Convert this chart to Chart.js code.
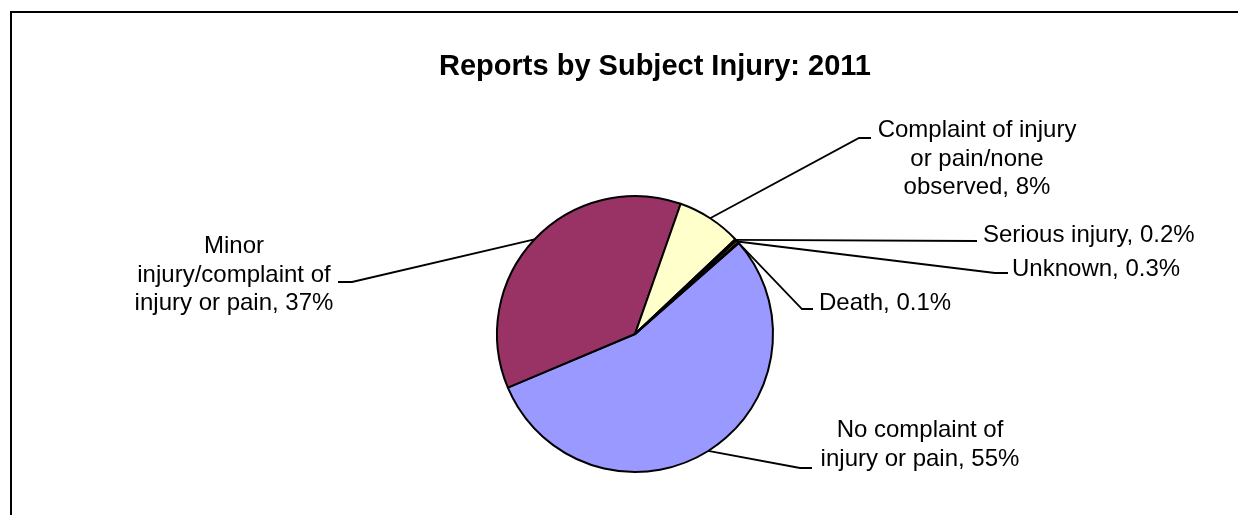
<!DOCTYPE html>
<html>
<head>
<meta charset="utf-8">
<title>Reports by Subject Injury: 2011</title>
<script src="https://cdn.jsdelivr.net/npm/chart.js@4.4.1/dist/chart.umd.min.js"></script>
<style>
  html, body { margin: 0; padding: 0; background: #fff; }
  canvas { display: block; }
</style>
</head>
<body>
<canvas id="injuryChart" width="1238" height="515"></canvas>
<script>
// data (share of reports, %)
const categories = [
    'No complaint of injury or pain',
    'Minor injury/complaint of injury or pain',
    'Complaint of injury or pain/none observed',
    'Serious injury',
    'Unknown',
    'Death'
];
const shares = [55.2, 36.8, 7.6, 0.2, 0.3, 0.1];
const sliceColors = ['#9999FF', '#993366', '#FFFFCC', '#5B7FA6', '#E07B28', '#8C8C8C'];
const chartTitle = 'Reports by Subject Injury: 2011';

// where each data label sits (elbow of the leader line, end of it, text anchor)
const labelLayout = [
    { elbow: [800, 468], end: [812, 468], x: 920, y: 437, align: 'center', wrap: 210 },
    { elbow: [352, 282], end: [338, 282], x: 234, y: 253, align: 'center', wrap: 210 },
    { elbow: [859, 138], end: [871, 138], x: 977, y: 137, align: 'center', wrap: 210 },
    { elbow: [977, 241], end: [977, 241], x: 983, y: 242, align: 'left', wrap: 999 },
    { elbow: [995, 273], end: [1008, 273], x: 1012, y: 276, align: 'left', wrap: 999 },
    { elbow: [802, 309], end: [813, 309], x: 819, y: 310, align: 'left', wrap: 999 }
];

const FONT = '"Liberation Sans", Arial, sans-serif';

function pctText(v, total) {
    const p = v / total * 100;
    return p >= 1 ? Math.round(p) + '%' : p.toFixed(1) + '%';
}

function wrapText(ctx, text, maxWidth) {
    const words = text.split(' ');
    const lines = [];
    let line = '';
    words.forEach(w => {
        const test = line ? line + ' ' + w : w;
        if (line && ctx.measureText(test).width > maxWidth) {
            lines.push(line);
            line = w;
        } else {
            line = test;
        }
    });
    if (line) lines.push(line);
    return lines;
}

// frame, title and the leader-line labels
const decorations = {
    id: 'decorations',
    beforeDraw(chart) {
        const ctx = chart.ctx;
        ctx.save();
        ctx.fillStyle = '#fff';
        ctx.fillRect(0, 0, chart.width, chart.height);
        ctx.strokeStyle = '#000';
        ctx.lineWidth = 2;
        ctx.beginPath();
        ctx.moveTo(11, chart.height + 2);
        ctx.lineTo(11, 12);
        ctx.lineTo(chart.width + 2, 12);
        ctx.stroke();
        ctx.restore();
    },
    afterDraw(chart) {
        const ctx = chart.ctx;
        const meta = chart.getDatasetMeta(0);
        const total = shares.reduce((a, b) => a + b, 0);
        ctx.save();

        ctx.fillStyle = '#000';
        ctx.font = 'bold 29px ' + FONT;
        ctx.textAlign = 'center';
        ctx.textBaseline = 'alphabetic';
        ctx.fillText(chartTitle, 655, 75);

        ctx.font = '24px ' + FONT;
        ctx.strokeStyle = '#000';
        ctx.lineWidth = 1.8;
        meta.data.forEach((arc, i) => {
            const lay = labelLayout[i];
            const p = arc.getProps(['x', 'y', 'startAngle', 'endAngle', 'outerRadius'], true);
            const mid = (p.startAngle + p.endAngle) / 2;
            const sx = p.x + Math.cos(mid) * p.outerRadius;
            const sy = p.y + Math.sin(mid) * p.outerRadius;
            ctx.beginPath();
            ctx.moveTo(sx, sy);
            ctx.lineTo(lay.elbow[0], lay.elbow[1]);
            ctx.lineTo(lay.end[0], lay.end[1]);
            ctx.stroke();

            const text = categories[i] + ', ' + pctText(shares[i], total);
            const lines = wrapText(ctx, text, lay.wrap);
            ctx.textAlign = lay.align;
            lines.forEach((ln, k) => {
                ctx.fillText(ln, lay.x, lay.y + k * 28.7);
            });
        });
        ctx.restore();
    }
};

new Chart(document.getElementById('injuryChart'), {
    type: 'pie',
    data: {
        labels: categories,
        datasets: [{
            data: shares,
            backgroundColor: sliceColors,
            borderColor: '#000',
            borderWidth: 2
        }]
    },
    options: {
        responsive: false,
        animation: false,
        rotation: 48.8,
        layout: { padding: { left: 496, right: 464, top: 195, bottom: 42 } },
        plugins: {
            legend: { display: false },
            tooltip: { enabled: false },
            title: { display: false }
        }
    },
    plugins: [decorations]
});
</script>
</body>
</html>
